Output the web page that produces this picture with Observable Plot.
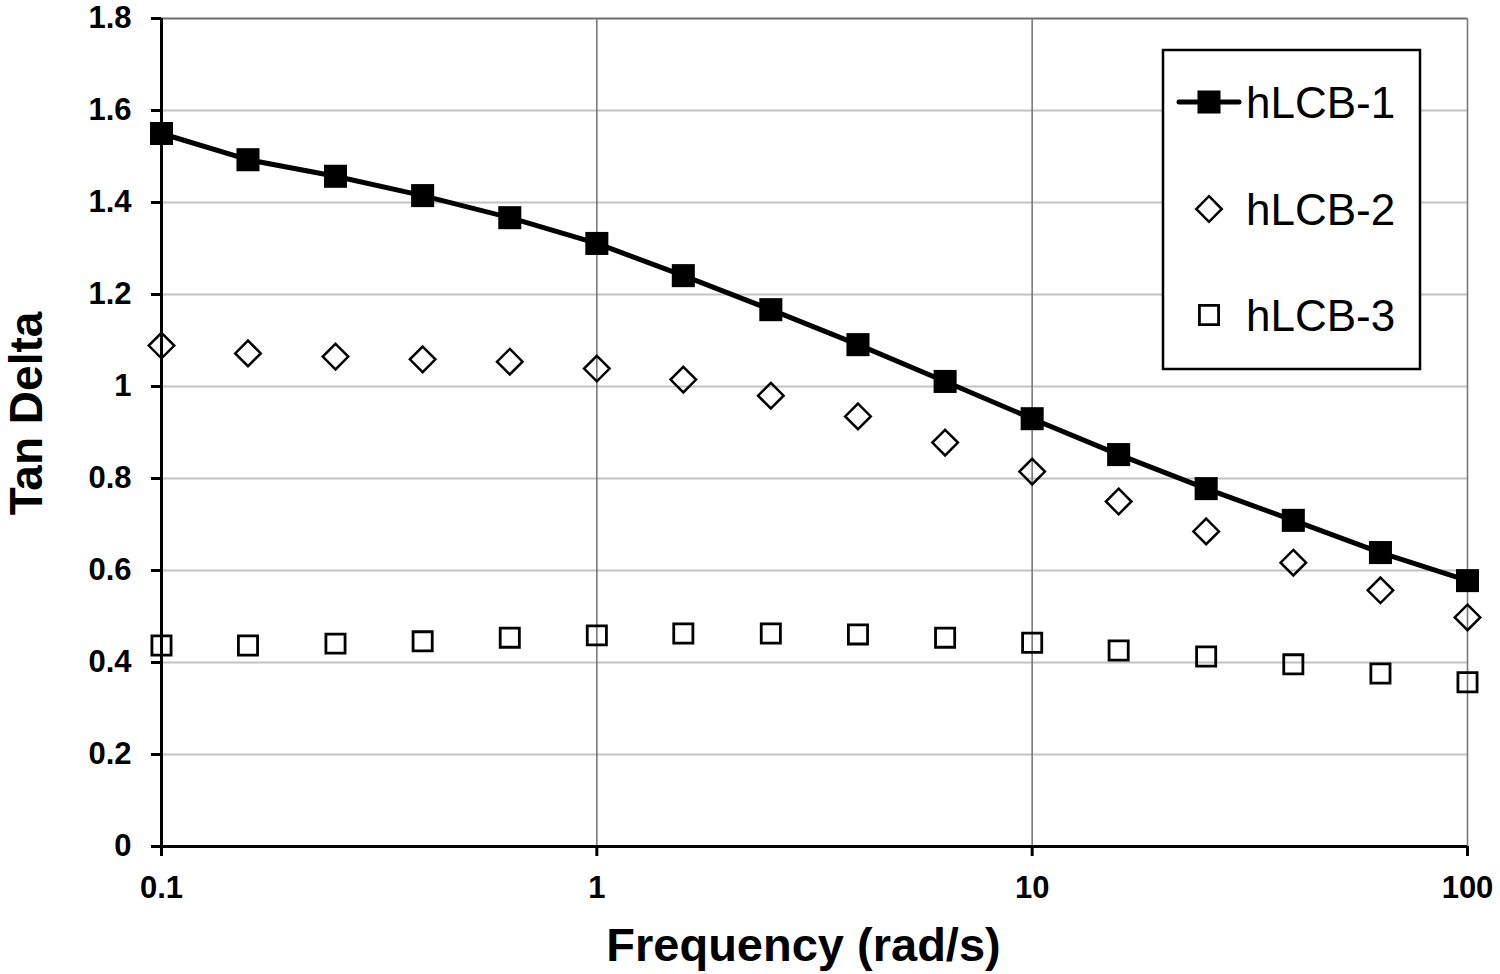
<!DOCTYPE html>
<html>
<head>
<meta charset="utf-8">
<script src="https://cdn.jsdelivr.net/npm/d3@7"></script>
<script src="https://cdn.jsdelivr.net/npm/@observablehq/plot@0.6"></script>
<style>
  html, body { margin: 0; padding: 0; background: white; }
  #chart { width: 1500px; height: 974px; }
</style>
</head>
<body>
<div id="chart"></div>
<script>
// Frequencies (rad/s), 5 points per decade
const freq = [0.1, 0.158, 0.251, 0.398, 0.631, 1, 1.58, 2.51, 3.98, 6.31, 10, 15.8, 25.1, 39.8, 63.1, 100];
// Tan delta values
const hLCB1 = [1.550, 1.493, 1.457, 1.415, 1.367, 1.311, 1.241, 1.167, 1.091, 1.011, 0.930, 0.852, 0.778, 0.709, 0.639, 0.578];
const hLCB2 = [1.089, 1.072, 1.065, 1.059, 1.054, 1.039, 1.015, 0.980, 0.935, 0.878, 0.815, 0.750, 0.685, 0.617, 0.557, 0.498];
const hLCB3 = [0.437, 0.437, 0.441, 0.446, 0.454, 0.459, 0.463, 0.463, 0.461, 0.454, 0.443, 0.426, 0.413, 0.396, 0.376, 0.357];
const seriesNames = ["hLCB-1", "hLCB-2", "hLCB-3"];
const xTicks = [0.1, 1, 10, 100];
const yTicks = [0, 0.2, 0.4, 0.6, 0.8, 1, 1.2, 1.4, 1.6, 1.8];
const xTitle = "Frequency (rad/s)";
const yTitle = "Tan Delta";

const rows = (vals) => freq.map((f, i) => ({f, v: vals[i]}));
const s1 = rows(hLCB1), s2 = rows(hLCB2), s3 = rows(hLCB3);

const font = "'Liberation Sans', Arial, sans-serif";

const chart = Plot.plot({
  width: 1500,
  height: 974,
  marginLeft: 161,
  marginRight: 33,
  marginTop: 18,
  marginBottom: 128,
  style: {fontFamily: font, background: "white", color: "black"},
  x: {type: "log", domain: [0.1, 100]},
  y: {domain: [0, 1.8]},
  marks: [
    Plot.gridY(yTicks.filter(d => d > 0 && d < 1.8), {stroke: "#c2c2c2", strokeOpacity: 1, strokeWidth: 2}),
    Plot.gridY([1.8], {stroke: "#6e6e6e", strokeOpacity: 1, strokeWidth: 2}),
    Plot.gridX(xTicks.filter(d => d > 0.1), {stroke: "#7a7a7a", strokeOpacity: 1, strokeWidth: 1.6}),
    Plot.axisY({ticks: yTicks, tickSize: 10, tickPadding: 20, fontSize: 31, fontWeight: "bold",
      strokeWidth: 3, label: null, tickFormat: d => String(+d.toFixed(1))}),
    Plot.axisX({ticks: xTicks, tickSize: 10, tickPadding: 19, fontSize: 31, fontWeight: "bold",
      strokeWidth: 3, label: null, tickFormat: d => String(d)}),
    Plot.ruleY([0], {stroke: "black", strokeWidth: 3}),
    Plot.ruleX([0.1], {stroke: "black", strokeWidth: 3}),
    Plot.line(s1, {x: "f", y: "v", stroke: "black", strokeWidth: 5}),
    Plot.dot(s1, {x: "f", y: "v", symbol: "square", fill: "black", r: 13}),
    Plot.dot(s2, {x: "f", y: "v", symbol: "diamond2", stroke: "black", fill: "none", strokeWidth: 2.5, r: 11.5}),
    Plot.dot(s3, {x: "f", y: "v", symbol: "square", stroke: "black", fill: "none", strokeWidth: 2.8, r: 10.8}),
    Plot.text([yTitle], {text: d => d, frameAnchor: "left", textAnchor: "middle", lineAnchor: "middle",
      dx: -134, dy: -19, rotate: -90, fontSize: 46, fontWeight: "bold", fill: "black"}),
    Plot.text([xTitle], {text: d => d, frameAnchor: "bottom", textAnchor: "middle", lineAnchor: "middle",
      dx: -11, dy: 99, fontSize: 47, fontWeight: "bold", fill: "black"})
  ]
});

document.getElementById("chart").appendChild(chart);

// Legend drawn inside the plot's SVG
const svg = d3.select(chart);
const lg = svg.append("g").attr("font-family", font);
lg.append("rect").attr("x", 1163).attr("y", 50).attr("width", 257).attr("height", 319)
  .attr("fill", "white").attr("stroke", "black").attr("stroke-width", 2.5);
const rowY = [102, 209, 315];
const symX = 1209, textX = 1246;
// hLCB-1: line + filled square
lg.append("line").attr("x1", 1179).attr("x2", 1239).attr("y1", rowY[0]).attr("y2", rowY[0])
  .attr("stroke", "black").attr("stroke-width", 5).attr("stroke-linecap", "round");
lg.append("path").attr("d", d3.symbol(d3.symbolSquare, 13 * 13 * Math.PI)())
  .attr("transform", `translate(${symX},${rowY[0]})`).attr("fill", "black");
lg.append("path").attr("d", d3.symbol(d3.symbolDiamond2, 11.5 * 11.5 * Math.PI)())
  .attr("transform", `translate(${symX},${rowY[1]})`).attr("fill", "none")
  .attr("stroke", "black").attr("stroke-width", 2.5);
lg.append("path").attr("d", d3.symbol(d3.symbolSquare, 10.8 * 10.8 * Math.PI)())
  .attr("transform", `translate(${symX},${rowY[2]})`).attr("fill", "none")
  .attr("stroke", "black").attr("stroke-width", 2.8);
seriesNames.forEach((name, i) => {
  lg.append("text").attr("x", textX).attr("y", rowY[i]).attr("dy", "0.36em")
    .attr("text-anchor", "start").attr("font-size", 44).attr("fill", "black").text(name);
});
</script>
</body>
</html>
